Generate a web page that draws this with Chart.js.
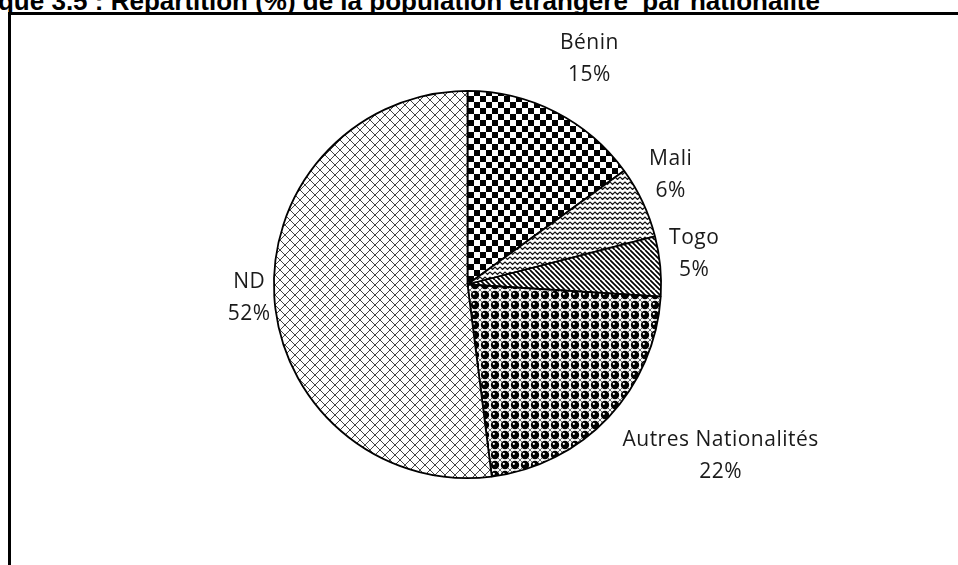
<!DOCTYPE html>
<html>
<head>
<meta charset="utf-8">
<script src="https://cdn.jsdelivr.net/npm/chart.js@4"></script>
<style>
    html, body { margin: 0; padding: 0; background: #fff; overflow: hidden; }
    body { width: 958px; height: 565px; position: relative; }
    #title {
        position: absolute; right: 138px; top: -14px;
        font: bold 26px "Liberation Sans", Arial, sans-serif;
        white-space: pre; color: #000;
    }
    #frame {
        position: absolute; left: 8px; top: 12px; width: 1000px; height: 700px;
        border: 3px solid #000;
    }
    #chartBox { position: absolute; left: 0; top: 0; width: 958px; height: 565px; }
</style>
</head>
<body>
<div id="title">Graphique 3.5 : Répartition (%) de la population étrangère  par nationalité</div>
<div id="frame"></div>
<div id="chartBox"><canvas id="nationaliteChart" width="958" height="565"></canvas></div>

<script>
const categories = ['Bénin', 'Mali', 'Togo', 'Autres Nationalités', 'ND'];
const shares = [15, 6, 5, 22, 52];
const patternNames = ['checker', 'zigzag', 'diagonal', 'spheres', 'diamond'];

// label offsets from the outer edge of each slice (Excel best fit placement)
const labelNudges = [[34, -53], [28, -27], [34, -12], [112, 39], [-25, 1]];

function makeTile(size, draw) {
    const c = document.createElement('canvas');
    c.width = size;
    c.height = size;
    const g = c.getContext('2d');
    g.fillStyle = '#fff';
    g.fillRect(0, 0, size, size);
    draw(g, size);
    return document.createElement('canvas').getContext('2d').createPattern(c, 'repeat');
}

function buildPattern(name) {
    if (name === 'checker') {
        return makeTile(12, (g) => {
            g.fillStyle = '#000';
            g.fillRect(0, 0, 6, 6);
            g.fillRect(6, 6, 6, 6);
        });
    }
    if (name === 'zigzag') {
        return makeTile(10, (g) => {
            g.strokeStyle = '#111';
            g.lineWidth = 1.2;
            g.beginPath();
            g.moveTo(0, 2); g.lineTo(2.5, 4.5); g.lineTo(5, 2); g.lineTo(7.5, 4.5); g.lineTo(10, 2);
            g.moveTo(0, 7); g.lineTo(2.5, 9.5); g.lineTo(5, 7); g.lineTo(7.5, 9.5); g.lineTo(10, 7);
            g.stroke();
        });
    }
    if (name === 'diagonal') {
        return makeTile(10, (g) => {
            g.strokeStyle = '#000';
            g.lineWidth = 1.7;
            g.beginPath();
            for (let k = -10; k <= 20; k += 5) {
                g.moveTo(k, 0);
                g.lineTo(k + 10, 10);
            }
            g.stroke();
        });
    }
    if (name === 'spheres') {
        return makeTile(10, (g) => {
            g.strokeStyle = '#666';
            g.lineWidth = 1;
            g.beginPath();
            g.moveTo(0, 0); g.lineTo(10, 10);
            g.moveTo(10, 0); g.lineTo(0, 10);
            g.stroke();
            g.fillStyle = '#000';
            g.beginPath();
            g.arc(5, 5, 4.2, 0, Math.PI * 2);
            g.fill();
            g.fillStyle = '#fff';
            g.beginPath();
            g.arc(3.8, 3.8, 1.1, 0, Math.PI * 2);
            g.fill();
        });
    }
    return makeTile(10, (g) => {
        g.strokeStyle = '#444';
        g.lineWidth = 1;
        g.beginPath();
        g.moveTo(0, 0); g.lineTo(10, 10);
        g.moveTo(10, 0); g.lineTo(0, 10);
        g.stroke();
    });
}

const sliceLabels = {
    id: 'sliceLabels',
    afterDraw(chart) {
        const ctx = chart.ctx;
        const arcs = chart.getDatasetMeta(0).data;
        ctx.save();
        ctx.fillStyle = '#1a1a1a';
        ctx.font = '21px "Open Sans", sans-serif';
        ctx.letterSpacing = '0.5px';
        ctx.textAlign = 'center';
        ctx.textBaseline = 'middle';
        arcs.forEach((arc, i) => {
            const mid = (arc.startAngle + arc.endAngle) / 2;
            const px = arc.x + Math.cos(mid) * arc.outerRadius;
            const py = arc.y + Math.sin(mid) * arc.outerRadius;
            const cx = px + labelNudges[i][0];
            const cy = py + labelNudges[i][1];
            ctx.fillText(categories[i], cx, cy - 16);
            ctx.fillText(shares[i] + '%', cx, cy + 16);
        });
        ctx.restore();
    }
};

const ctx = document.getElementById('nationaliteChart').getContext('2d');
new Chart(ctx, {
    type: 'pie',
    data: {
        labels: categories,
        datasets: [{
            data: shares,
            backgroundColor: patternNames.map(buildPattern),
            borderColor: '#000',
            borderWidth: 1.8
        }]
    },
    options: {
        responsive: false,
        animation: false,
        layout: { padding: { top: 89, bottom: 85, left: 273, right: 296 } },
        plugins: {
            legend: { display: false },
            tooltip: { enabled: false }
        }
    },
    plugins: [sliceLabels]
});
</script>
</body>
</html>
